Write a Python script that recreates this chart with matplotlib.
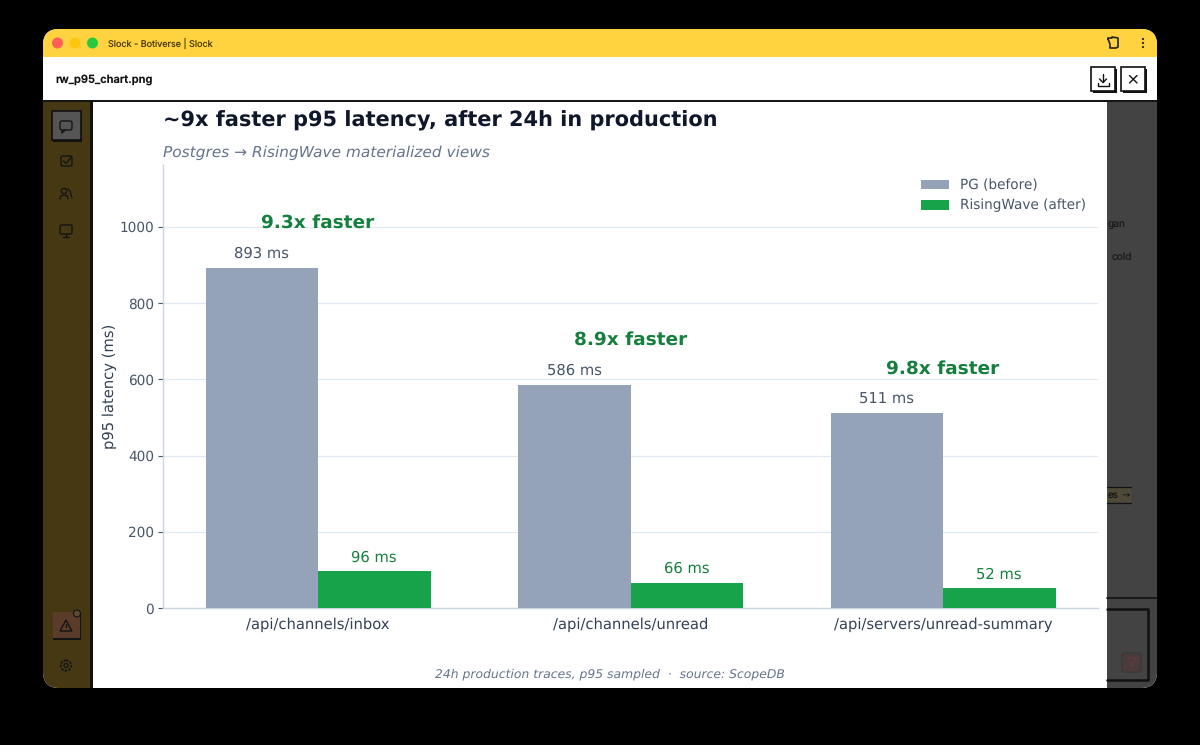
#!/usr/bin/env python3
"""p95 latency chart, shown inside the dimmed app window screenshot."""

import numpy as np
import matplotlib
matplotlib.use("Agg")
import matplotlib.pyplot as plt
from matplotlib.patches import Circle, FancyBboxPatch, Rectangle, Polygon

plt.rcParams["text.hinting"] = "none"

# ---------------- Data ------------------------------------------------
ENDPOINTS = ["/api/channels/inbox", "/api/channels/unread", "/api/servers/unread-summary"]
PG_MS = [893, 586, 511]
RW_MS = [96, 66, 52]
SPEEDUPS = ["9.3x faster", "8.9x faster", "9.8x faster"]
YTICKS = [0, 200, 400, 600, 800, 1000]

W, H = 1200, 745
BAR_W = 0.36

SLATE = "#94a3b8"
GREEN = "#16a34a"
DKGREEN = "#15803d"
INK = "#0f172a"
GREY = "#64748b"
TICK = "#475569"
GRID = "#e2e8f0"
SPINE = "#cbd5e1"
OLIVE = "#453813"
DIM = "#434343"
UI_FONT = ["Inter", "DejaVu Sans"]

fig = plt.figure(figsize=(W / 100, H / 100), dpi=100, facecolor="black")

# ---------------- Window chrome (pixel coordinates) -------------------
bg = fig.add_axes([0, 0, 1, 1])
bg.set_xlim(0, W)
bg.set_ylim(H, 0)
bg.axis("off")


def rect(x0, y0, x1, y1, fc, ec="none", lw=0, z=1):
    bg.add_patch(Rectangle((x0, y0), x1 - x0, y1 - y0, fc=fc, ec=ec, lw=lw, zorder=z))


def round_rect(x0, y0, x1, y1, fc, r=2, ec="none", lw=0, z=1):
    p = FancyBboxPatch((x0 + r, y0 + r), x1 - x0 - 2 * r, y1 - y0 - 2 * r,
                       boxstyle=f"round,pad={r},rounding_size={r}",
                       fc=fc, ec=ec, lw=lw, zorder=z)
    bg.add_patch(p)
    return p


def line(xs, ys, color="black", lw=1.0, z=6):
    bg.plot(xs, ys, color=color, lw=lw, zorder=z, solid_capstyle="round")


# window body with rounded corners, sections clipped to it
body = round_rect(43, 29, 1157, 688, "#ffffff", r=16, z=1)
for args in [(43, 29, 1157, 57, "#ffd23f"),
             (43, 57, 1157, 100, "#ffffff"),
             (43, 100, 92, 688, OLIVE),
             (1107, 100, 1157, 688, DIM)]:
    r_ = Rectangle((args[0], args[1]), args[2] - args[0], args[3] - args[1],
                   fc=args[4], ec="none", zorder=2)
    bg.add_patch(r_)
    r_.set_clip_path(body)
rect(43, 100, 1157, 102, "#151515", z=3)
rect(90, 100, 92.5, 688, "#111111", z=3)
rect(92.5, 102, 1107, 688, "#ffffff", z=3)

# title bar
for cx, col in [(57.5, "#ff5f57"), (75, "#fcc60e"), (92.5, "#28c840")]:
    bg.add_patch(Circle((cx, 43), 5.5, fc=col, ec="none", zorder=4))
bg.text(108, 44, "Slock - Botiverse | Slock", fontsize=6.5, color="#4a3b12",
        family=UI_FONT, va="center", zorder=5)
bg.text(55, 79.5, "rw_p95_chart.png", fontsize=8.0, color="#111111", weight="semibold",
        family=UI_FONT, va="center", zorder=5)

# extension + kebab icons
line([1108, 1108, 1112, 1112, 1118, 1118, 1116, 1110, 1110, 1108],
     [39, 38, 38, 37, 38, 47, 48, 48, 44, 39], "#222222", 1.2)
for y in (39, 43, 47):
    bg.add_patch(Circle((1143, y), 1.1, fc="#222222", zorder=5))

# download and close buttons
for x0 in (1091, 1121):
    rect(x0 + 2, 69, x0 + 26, 93, "#111111", z=4)
    rect(x0, 67, x0 + 24, 91, "#ffffff", ec="#111111", lw=1.2, z=5)
line([1103, 1103], [74, 82], "#111111", 1.0)
line([1099.5, 1103, 1106.5], [79, 82.5, 79], "#111111", 1.0)
line([1097.5, 1097.5, 1108.5, 1108.5], [83, 85.5, 85.5, 83], "#111111", 1.0)
line([1129.5, 1137], [75.5, 83], "#111111", 1.0)
line([1137, 1129.5], [75.5, 83], "#111111", 1.0)

# sidebar buttons and icons
rect(53, 113, 82, 142, "#111111", z=4)
rect(52, 111, 80.5, 140, "#555555", ec="#111111", lw=1.2, z=5)
ICON = "#141414"
round_rect(60, 121, 72, 130, "none", r=2, ec=ICON, lw=1.0, z=6)
line([62, 62, 65], [130, 133, 130], ICON, 1.0)
round_rect(61, 156, 72, 166, "none", r=2, ec=ICON, lw=1.0, z=6)
line([63.5, 66, 71], [161, 163.5, 157.5], ICON, 1.0)
bg.add_patch(Circle((64, 191), 2.7, fc="none", ec=ICON, lw=1.0, zorder=6))
line([60, 60.5, 64, 67.5, 68], [199, 196, 195, 196, 199], ICON, 1.0)
line([68, 70, 72], [188.5, 191, 198], ICON, 0.9)
round_rect(60, 225, 72, 234, "none", r=1.5, ec=ICON, lw=1.0, z=6)
line([63, 69], [237, 237], ICON, 1.0)
line([66, 66], [234, 237], ICON, 1.0)

rect(53, 612, 81, 640, "#141414", z=4)
rect(53, 612, 79.5, 638, "#5b3b2a", z=5)
bg.add_patch(Polygon([[66, 620], [72, 631], [60, 631]], closed=True, fc="none",
                     ec=ICON, lw=1.0, zorder=6))
line([66, 66], [624, 627], ICON, 1.0)
bg.add_patch(Circle((77, 613.5), 3.5, fc="#5b4a30", ec="#141414", lw=0.8, zorder=6))
bg.add_patch(Circle((66, 665.5), 5.2, fc="none", ec=ICON, lw=1.3, ls=(0, (1.4, 0.7)), zorder=6))
bg.add_patch(Circle((66, 665.5), 2, fc="none", ec=ICON, lw=0.9, zorder=6))

# right pane, mostly hidden behind the image
bg.text(1108, 225, "gan", fontsize=7.3, color="#1a1a1a", family=UI_FONT, va="center", zorder=5)
bg.text(1112, 257, "cold", fontsize=7.3, color="#1a1a1a", family=UI_FONT, va="center", zorder=5)
rect(1107, 487, 1131, 502, "#4f4a38", z=4)
line([1107, 1131], [486.5, 486.5], "#141414", 0.9)
line([1107, 1131], [502.5, 502.5], "#141414", 0.9)
bg.text(1108, 495.5, "es", fontsize=7, color="#141414", family=UI_FONT, va="center", zorder=5)
bg.text(1126, 495, "→", fontsize=7, color="#141414", family="DejaVu Sans",
        ha="center", va="center", zorder=5)
line([1107, 1157], [598, 598], "#111111", 1.2)
line([1107, 1148, 1148, 1107], [609, 609, 680, 680], "#111111", 1.8)
round_rect(1122, 653, 1141, 672, "#4b3b3b", r=2, ec="#3a3a3a", lw=1.2, z=5)
line([1126, 1136, 1132, 1131], [658, 658, 667, 662], "#5c3f3f", 1.0)

# ---------------- The chart -------------------------------------------
ax = fig.add_axes([163 / W, (H - 608) / H, 935 / W, 443 / H], facecolor="none", zorder=2)
x = np.arange(len(ENDPOINTS))
ax.bar(x - BAR_W / 2, PG_MS, BAR_W, color=SLATE, label="PG (before)", zorder=3)
ax.bar(x + BAR_W / 2, RW_MS, BAR_W, color=GREEN, label="RisingWave (after)", zorder=3)

for i in x:
    ax.text(i - BAR_W / 2, PG_MS[i] + 36, f"{PG_MS[i]} ms", ha="center", va="center",
            fontsize=10.6, color=TICK)
    ax.text(i + BAR_W / 2, RW_MS[i] + 36, f"{RW_MS[i]} ms", ha="center", va="center",
            fontsize=10.6, color=DKGREEN)
    ax.text(i, PG_MS[i] + 117, SPEEDUPS[i], ha="center", va="center",
            fontsize=13.3, weight="bold", color=DKGREEN)

ax.set_xlim(-0.496, 2.496)
ax.set_ylim(0, 1162)
ax.set_xticks(x)
ax.set_xticklabels(ENDPOINTS, fontsize=10.6, color="#334155")
ax.set_yticks(YTICKS)
ax.tick_params(axis="y", labelsize=9.8, labelcolor=TICK, color=TICK, length=3.5, width=0.8, pad=2.8)
ax.tick_params(axis="x", length=0, pad=6.5)
ax.set_ylabel("p95 latency (ms)", fontsize=10.6, color="#334155", labelpad=2.2)
ax.grid(axis="y", color=GRID, lw=0.9, zorder=0)
ax.set_axisbelow(True)
for side in ("top", "right"):
    ax.spines[side].set_visible(False)
for side in ("left", "bottom"):
    ax.spines[side].set_color(SPINE)
    ax.spines[side].set_linewidth(1.0)

ax.legend(loc="upper right", frameon=False, fontsize=9.85, labelcolor=TICK,
          bbox_to_anchor=(0.997, 0.991), borderaxespad=0.3, handlelength=2.0,
          labelspacing=0.5)

# ---------------- Headings --------------------------------------------
bg.text(163, 120.5, "~9x faster p95 latency, after 24h in production", fontsize=15.0,
        weight="bold", color=INK, va="center", zorder=5)
bg.text(163, 153, "Postgres → RisingWave materialized views", fontsize=11.1,
        style="italic", color=GREY, va="center", zorder=5)
bg.text(609.5, 674, "24h production traces, p95 sampled  ·  source: ScopeDB", fontsize=8.9,
        style="italic", color=GREY, ha="center", va="center", zorder=5)

fig.savefig("out.png", dpi=100, facecolor="black")
